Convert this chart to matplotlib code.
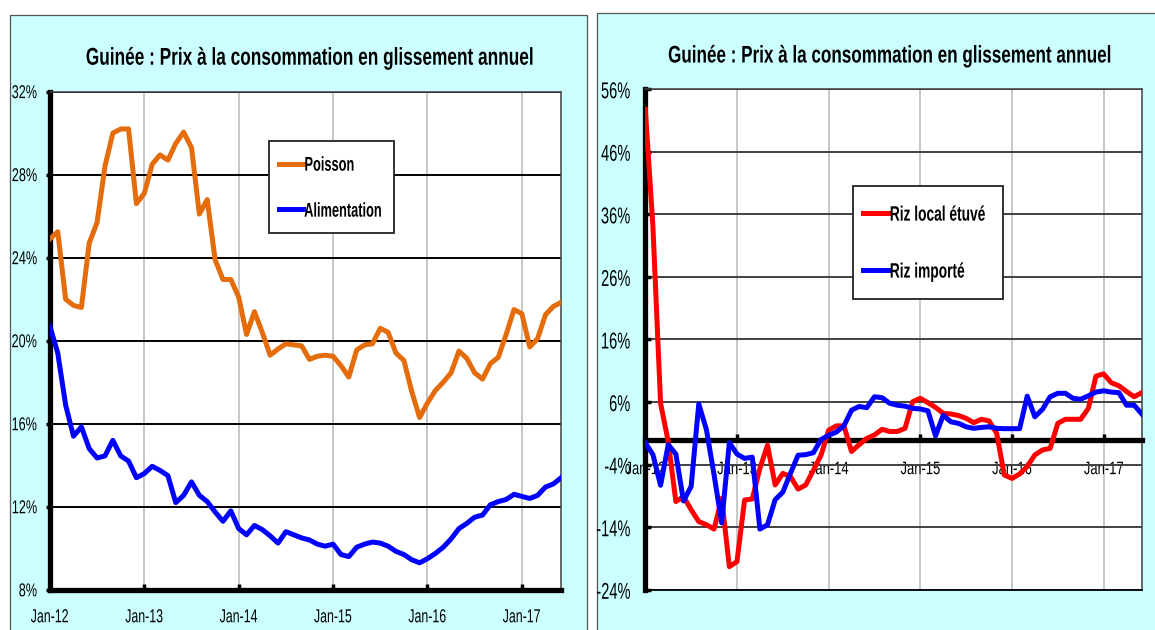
import numpy as np
import pandas as pd
import matplotlib
matplotlib.use("Agg")
import matplotlib.pyplot as plt
from matplotlib import font_manager as fm
from matplotlib.patches import Rectangle
from matplotlib.patheffects import AbstractPathEffect
from matplotlib.transforms import Affine2D
from matplotlib.legend_handler import HandlerLine2D
from matplotlib.lines import Line2D

# narrow type: use Liberation Sans Narrow when present, else squash Liberation Sans more
_names = {f.name for f in fm.fontManager.ttflist}
if 'Liberation Sans Narrow' in _names:
    plt.rcParams['font.family'] = ['Liberation Sans Narrow', 'Liberation Sans', 'DejaVu Sans']
    NW = 0.82
else:
    plt.rcParams['font.family'] = ['Liberation Sans', 'DejaVu Sans']
    NW = 1.0

# ---------------- data ----------------
months = pd.date_range('2012-01-01', periods=66, freq='MS')
tick_pos = [0, 12, 24, 36, 48, 60]
tick_labels = ['Jan-12', 'Jan-13', 'Jan-14', 'Jan-15', 'Jan-16', 'Jan-17']

title = "Guinée : Prix à la consommation en glissement annuel"

poisson = [24.9, 25.25, 22.0, 21.7, 21.6, 24.7, 25.7, 28.4, 30.0, 30.2,
           30.2, 26.6, 27.1, 28.5, 28.95, 28.7, 29.5, 30.05, 29.3, 26.1,
           26.8, 23.9, 22.95, 22.95, 22.1, 20.3, 21.4, 20.4, 19.3, 19.6,
           19.85, 19.8, 19.75, 19.1, 19.25, 19.3, 19.25, 18.8, 18.25, 19.55,
           19.8, 19.85, 20.6, 20.4, 19.4, 19.05, 17.55, 16.3, 17.0, 17.6,
           18.0, 18.45, 19.5, 19.15, 18.45, 18.15, 18.9, 19.2, 20.3, 21.5,
           21.3, 19.7, 20.1, 21.25, 21.65, 21.85]

alimentation = [20.7, 19.4, 16.9, 15.4, 15.85, 14.8, 14.35, 14.45, 15.2, 14.45,
                14.2, 13.4, 13.6, 13.95, 13.75, 13.5, 12.2, 12.55, 13.2, 12.55,
                12.25, 11.75, 11.3, 11.8, 10.95, 10.65, 11.1, 10.9, 10.6, 10.25,
                10.8, 10.65, 10.5, 10.4, 10.2, 10.1, 10.2, 9.7, 9.6, 10.05,
                10.2, 10.3, 10.25, 10.1, 9.85, 9.7, 9.45, 9.3, 9.5, 9.75,
                10.05, 10.45, 10.95, 11.2, 11.5, 11.6, 12.1, 12.25, 12.35, 12.6,
                12.5, 12.4, 12.55, 12.95, 13.1, 13.4]

riz_local = [52.8, 34.0, 5.8, -0.3, -9.9, -9.1, -11.2, -13.1, -13.6, -14.3,
             -9.4, -20.3, -19.5, -9.65, -9.5, -4.6, -0.9, -7.25, -5.4, -5.9,
             -7.9, -7.25, -4.9, -2.5, 1.5, 2.2, 2.2, -1.9, -0.8, 0.2,
             0.75, 1.65, 1.3, 1.3, 1.8, 6.05, 6.6, 5.9, 5.15, 4.2,
             4.1, 3.85, 3.4, 2.7, 3.25, 3.0, 1.0, -5.65, -6.2, -5.5,
             -4.3, -2.45, -1.65, -1.4, 2.6, 3.25, 3.25, 3.25, 5.0, 10.15,
             10.5, 9.1, 8.6, 7.7, 6.85, 7.5]

riz_importe = [-0.5, -2.4, -7.3, -0.8, -2.3, -9.8, -7.5, 5.7, 1.6, -5.6,
               -13.3, -0.5, -2.3, -3.0, -2.8, -14.3, -13.6, -9.6, -8.4, -5.4,
               -2.5, -2.4, -2.1, 0.0, 0.7, 1.2, 2.2, 4.7, 5.3, 5.1,
               6.85, 6.7, 5.8, 5.5, 5.35, 5.0, 4.9, 4.6, 0.6, 3.9,
               2.85, 2.6, 2.05, 1.8, 1.95, 2.05, 1.8, 1.75, 1.75, 1.75,
               6.95, 3.65, 4.85, 6.85, 7.4, 7.4, 6.6, 6.45, 7.0, 7.6,
               7.8, 7.6, 7.5, 5.5, 5.5, 4.1]

left_yticks = [8, 12, 16, 20, 24, 28, 32]
right_yticks = [-24, -14, -4, 6, 16, 26, 36, 46, 56]

# ---------------- style ----------------
CYAN = '#CCFFFF'
ORANGE = '#E46C0A'
BLUE = '#0000FF'
RED = '#FF0000'
LW = 3.6


class Squash(AbstractPathEffect):
    """Compress glyph paths horizontally (narrow type look)."""

    def __init__(self, sx=0.7, anchor='center'):
        super().__init__()
        self.sx = min(1.0, sx / NW)
        self.anchor = anchor

    def draw_path(self, renderer, gc, tpath, affine, rgbFace=None):
        ext = tpath.get_extents(affine)
        if self.anchor == 'left':
            px = ext.x0
        elif self.anchor == 'right':
            px = ext.x1
        else:
            px = 0.5 * (ext.x0 + ext.x1)
        aff = affine + Affine2D().translate(-px, 0).scale(self.sx, 1).translate(px, 0)
        renderer.draw_path(gc, tpath, aff, rgbFace)


class VStretch(AbstractPathEffect):
    """Stretch glyph paths vertically about their baseline (tall narrow type look)."""

    def __init__(self, sy=1.4):
        super().__init__()
        self.sy = sy

    def draw_path(self, renderer, gc, tpath, affine, rgbFace=None):
        y0 = affine.get_matrix()[1, 2]
        aff = affine + Affine2D().translate(0, -y0).scale(1, self.sy).translate(0, y0)
        renderer.draw_path(gc, tpath, aff, rgbFace)


class HandlerMid(HandlerLine2D):
    """Legend line drawn at the middle height of the label capitals."""

    def create_artists(self, legend, orig_handle, xdescent, ydescent,
                       width, height, fontsize, trans):
        arts = super().create_artists(legend, orig_handle, xdescent, ydescent,
                                      width, height, fontsize, trans)
        for a in arts:
            if isinstance(a, Line2D):
                a.set_ydata(np.full_like(np.asarray(a.get_xdata(), float), 0.36 * fontsize))
        return arts


W, H = 1155, 630
fig = plt.figure(figsize=(W / 100, H / 100), dpi=100, facecolor='white')


def fx(px):
    return px / W


def fy(py):
    return 1 - py / H


# background panels
fig.patches.append(Rectangle((fx(10.4), fy(660)), fx(587) - fx(10.4), fy(15) - fy(660),
                             transform=fig.transFigure, facecolor=CYAN,
                             edgecolor='#555555', lw=0.9, zorder=-5))
fig.patches.append(Rectangle((fx(596.5), fy(660)), fx(1170) - fx(596.5), fy(13.3) - fy(660),
                             transform=fig.transFigure, facecolor=CYAN,
                             edgecolor='#555555', lw=0.9, zorder=-5))

x = np.arange(len(months))

ax1 = fig.add_axes([fx(49.9), fy(589.8), (561.2 - 49.9) / W, (589.8 - 91.6) / H])
ax2 = fig.add_axes([fx(645.3), fy(589.8), (1141.8 - 645.3) / W, (589.8 - 89.2) / H])

# ---- left chart ----
l1, = ax1.plot(x, poisson, color=ORANGE, lw=LW, solid_joinstyle='round', zorder=3, label='Poisson')
l2, = ax1.plot(x, alimentation, color=BLUE, lw=LW, solid_joinstyle='round', zorder=3, label='Alimentation')
ax1.set_xlim(0, 65)
ax1.set_ylim(8, 32)
ax1.set_xticks(tick_pos, tick_labels)
ax1.set_yticks(left_yticks, [f'{v}%' for v in left_yticks])
ax1.yaxis.grid(True, color='black', lw=1.4)
ax1.xaxis.grid(True, color='#BFBFBF', lw=1.2)
ax1.set_axisbelow(True)
for s in ['left', 'bottom']:
    ax1.spines[s].set_color('black')
    ax1.spines[s].set_linewidth(3.8)
for s in ['top', 'right']:
    ax1.spines[s].set_color('#404040')
    ax1.spines[s].set_linewidth(1.1)
ax1.tick_params(axis='x', direction='in', length=4, width=2.5, pad=14, labelsize=13.5)
ax1.tick_params(axis='y', direction='out', length=3, width=2.5, pad=6.2, labelsize=13.4)
for t in ax1.get_xticklabels():
    t.set_path_effects([Squash(0.66, 'center')])
for t in ax1.get_yticklabels():
    t.set_path_effects([Squash(0.68, 'right')])

leg1 = ax1.legend(handles=[l1, l2], loc='upper left',
                  bbox_to_anchor=(fx(269), fy(233), (394 - 269) / W, (233 - 141) / H),
                  bbox_transform=fig.transFigure, mode='expand', borderaxespad=0,
                  borderpad=0.5, labelspacing=0.98, handlelength=1.2, handleheight=1.65,
                  handletextpad=0.05, prop=dict(weight='bold', size=14.4),
                  fancybox=False, framealpha=1, edgecolor='#222222',
                  handler_map={Line2D: HandlerMid()})
leg1.get_frame().set_linewidth(1.3)
for t in leg1.get_texts():
    t.set_path_effects([Squash(0.64, 'left')])

# ---- right chart ----
r1, = ax2.plot(x, riz_local, color=RED, lw=LW, solid_joinstyle='round', zorder=3, label='Riz local étuvé')
r2, = ax2.plot(x, riz_importe, color=BLUE, lw=LW, solid_joinstyle='round', zorder=3, label='Riz importé')
ax2.set_xlim(0, 65)
ax2.set_ylim(-24, 56)
ax2.set_xticks(tick_pos, tick_labels)
ax2.set_yticks(right_yticks, [f'{v}%' for v in right_yticks])
ax2.yaxis.grid(True, color='#404040', lw=1.4)
ax2.xaxis.grid(True, color='#BFBFBF', lw=1.2)
ax2.set_axisbelow(True)
ax2.spines['bottom'].set_position(('data', 0))
ax2.spines['bottom'].set_color('black')
ax2.spines['bottom'].set_linewidth(3.8)
ax2.spines['left'].set_color('black')
ax2.spines['left'].set_linewidth(3.8)
for s in ['top', 'right']:
    ax2.spines[s].set_color('#404040')
    ax2.spines[s].set_linewidth(1.1)
ax2.axhline(-24, color='black', lw=1.3, clip_on=False, zorder=2.6)
ax2.tick_params(axis='x', direction='in', length=4, width=2.5, pad=15.5, labelsize=13)
ax2.tick_params(axis='y', direction='in', length=4, width=2.5, pad=10.5, labelsize=16.5)
for t in ax2.get_xticklabels():
    t.set_path_effects([Squash(0.72, 'center')])
for t in ax2.get_yticklabels():
    t.set_path_effects([Squash(0.64, 'right')])

leg2 = ax2.legend(handles=[r1, r2], loc='upper left',
                  bbox_to_anchor=(fx(853.2), fy(299.3), (1002.8 - 853.2) / W, (299.3 - 186) / H),
                  bbox_transform=fig.transFigure, mode='expand', borderaxespad=0,
                  borderpad=0.485, labelspacing=1.0, handlelength=1.25, handleheight=2.29,
                  handletextpad=0.0, prop=dict(weight='bold', size=15),
                  fancybox=False, framealpha=1, edgecolor='#222222',
                  handler_map={Line2D: HandlerMid()})
leg2.get_frame().set_linewidth(1.3)
for t in leg2.get_texts():
    t.set_path_effects([Squash(0.66, 'left')])

# titles: sized by width, then stretched vertically to the tall narrow look
TITLE_SIZE = 17.5 * 0.71 / NW
fig.text(fx(309.7), fy(64.7), title, ha='center', va='baseline', fontsize=TITLE_SIZE,
         fontweight='bold', color='black', path_effects=[VStretch(17.5 / TITLE_SIZE)])
fig.text(fx(890.8), fy(62.5), title, ha='center', va='baseline', fontsize=TITLE_SIZE * 0.99,
         fontweight='bold', color='black', path_effects=[VStretch(17.5 / TITLE_SIZE)])

fig.savefig('out.png', dpi=100, facecolor='white')
